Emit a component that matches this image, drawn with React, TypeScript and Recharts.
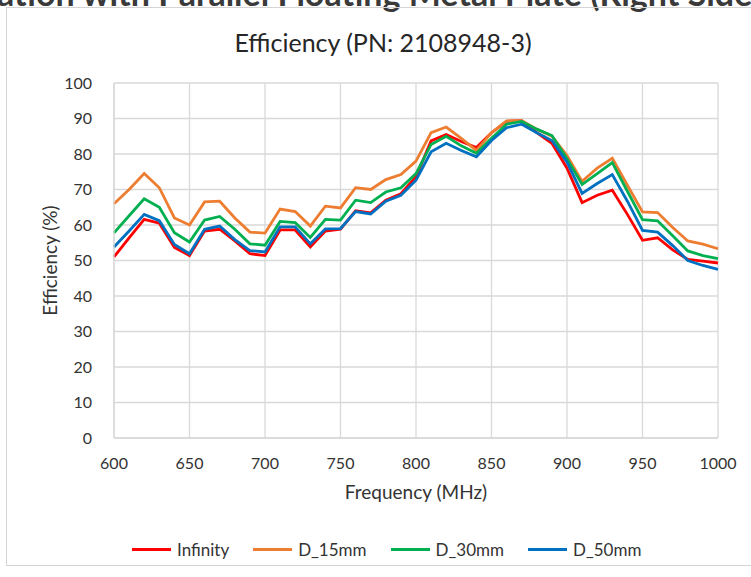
import { LineChart, Line, XAxis, YAxis, CartesianGrid, Label } from "recharts";

/* ─── Data ─── */

const freq = [
  600, 610, 620, 630, 640, 650, 660, 670, 680, 690, 700, 710, 720, 730, 740, 750, 760, 770, 780, 790,
  800, 810, 820, 830, 840, 850, 860, 870, 880, 890, 900, 910, 920, 930, 940, 950, 960, 970, 980, 990, 1000,
];

const infinity = [
  51, 56.4, 61.6, 60.5, 53.7, 51.4, 58.3, 58.8, 55.5, 51.9, 51.4, 58.6, 58.6, 53.8, 58.3, 58.8, 64, 63.4, 67, 68.8,
  73.6, 83.7, 85.5, 83.5, 81.8, 86, 89.2, 89.4, 86, 83, 76, 66.3, 68.4, 69.8, 63, 55.7, 56.4, 53, 50.3, 49.8, 49.3,
];

const d15 = [
  66, 70, 74.5, 70.5, 62, 60, 66.5, 66.7, 62, 58, 57.7, 64.5, 63.8, 59.7, 65.3, 64.8, 70.5, 70, 72.8, 74.2,
  78, 86, 87.6, 84.4, 81, 86, 89.3, 89.4, 87, 85, 79.6, 72.3, 76, 78.8, 71.2, 63.7, 63.5, 59.3, 55.5, 54.6, 53.3,
];

const d30 = [
  57.8, 62.6, 67.4, 65, 57.8, 55.2, 61.4, 62.4, 58.8, 54.7, 54.3, 61, 60.7, 56.5, 61.6, 61.4, 67, 66.3, 69.3, 70.5,
  74.5, 82.7, 85, 82.3, 80.2, 84.4, 88.4, 89.2, 87, 85.2, 78.7, 71.4, 74.5, 77.6, 69.5, 61.5, 61.2, 57, 52.7, 51.4, 50.5,
];

const d50 = [
  53.8, 58.3, 63, 61.2, 54.5, 51.9, 58.8, 59.7, 55.9, 52.8, 52.4, 59.5, 59.5, 54.7, 58.9, 59, 63.8, 63.1, 66.7, 68.4,
  72.6, 80.6, 83, 81, 79.2, 83.8, 87.4, 88.4, 86, 83.8, 77.7, 68.9, 71.7, 74.2, 66.7, 58.5, 58, 54.2, 50, 48.6, 47.5,
];

const xTicks = [600, 650, 700, 750, 800, 850, 900, 950, 1000];
const yTicks = [0, 10, 20, 30, 40, 50, 60, 70, 80, 90, 100];

const series = [
  { key: "infinity", name: "Infinity", color: "#FF0000", values: infinity },
  { key: "d15", name: "D_15mm", color: "#ED7D31", values: d15 },
  { key: "d30", name: "D_30mm", color: "#00B050", values: d30 },
  { key: "d50", name: "D_50mm", color: "#0070C0", values: d50 },
];

const data = freq.map((f, i) => {
  const row: Record<string, number> = { freq: f };
  series.forEach((s) => {
    row[s.key] = s.values[i];
  });
  return row;
});

const FONT = "Lato, 'Open Sans', sans-serif";
const GRID = "#d9d9d9";
const TEXT = "#333333";

export default function App() {
  return (
    <div
      style={{
        position: "absolute",
        left: 0,
        top: 0,
        width: 751,
        height: 577,
        overflow: "hidden",
        background: "#fff",
        fontFamily: FONT,
      }}
    >
      {/* page heading, cut off at the top as in the source screenshot */}
      <div
        style={{
          position: "absolute",
          left: -3,
          top: -24,
          whiteSpace: "nowrap",
          fontSize: 34,
          lineHeight: "34px",
          fontWeight: 700,
          color: "#3a3a3a",
        }}
      >
        ation with Parallel Floating Metal Plate (Right Side)
      </div>

      {/* chart frame */}
      <div
        style={{
          position: "absolute",
          left: 6,
          top: 7,
          width: 760,
          height: 559,
          border: "1px solid #d4d4d4",
          boxSizing: "border-box",
        }}
      />

      {/* title */}
      <div
        style={{
          position: "absolute",
          left: 0,
          top: 27,
          width: 766,
          textAlign: "center",
          fontSize: 25,
          lineHeight: "30px",
          color: "#262626",
        }}
      >
        Efficiency (PN: 2108948-3)
      </div>

      <div style={{ position: "absolute", left: 0, top: 0 }}>
        <LineChart width={751} height={577} data={data} margin={{ top: 83, right: 33, left: 34, bottom: 78 }}>
          <CartesianGrid stroke={GRID} strokeWidth={1.3} />
          <XAxis
            type="number"
            dataKey="freq"
            domain={[600, 1000]}
            ticks={xTicks}
            height={61}
            tickLine={false}
            tickSize={0}
            tickMargin={20}
            axisLine={{ stroke: GRID, strokeWidth: 1.3 }}
            tick={{ fill: TEXT, fontSize: 16, fontFamily: FONT }}
          >
            <Label
              value="Frequency (MHz)"
              position="insideBottom"
              offset={0}
              style={{ fill: TEXT, fontSize: 19, fontFamily: FONT }}
            />
          </XAxis>
          <YAxis
            type="number"
            domain={[0, 100]}
            ticks={yTicks}
            width={80}
            tickLine={false}
            tickSize={0}
            tickMargin={22}
            axisLine={{ stroke: GRID, strokeWidth: 1.3 }}
            tick={{ fill: TEXT, fontSize: 16, fontFamily: FONT }}
          >
            <Label
              value="Efficiency (%)"
              angle={-90}
              position="insideLeft"
              offset={16}
              style={{ fill: TEXT, fontSize: 19, fontFamily: FONT, textAnchor: "middle" }}
            />
          </YAxis>
          {series.map((s) => (
            <Line
              key={s.key}
              type="linear"
              dataKey={s.key}
              name={s.name}
              stroke={s.color}
              strokeWidth={2.8}
              dot={false}
              activeDot={false}
              isAnimationActive={false}
            />
          ))}
        </LineChart>
      </div>

      {/* legend */}
      <div
        style={{
          position: "absolute",
          left: 132,
          top: 538,
          height: 22,
          display: "flex",
          alignItems: "center",
          fontSize: 17,
          color: TEXT,
        }}
      >
        {series.map((s) => (
          <div key={s.key} style={{ display: "flex", alignItems: "center", marginRight: 24 }}>
            <span style={{ display: "inline-block", width: 39, height: 3, background: s.color, marginRight: 6 }} />
            <span>{s.name}</span>
          </div>
        ))}
      </div>
    </div>
  );
}
